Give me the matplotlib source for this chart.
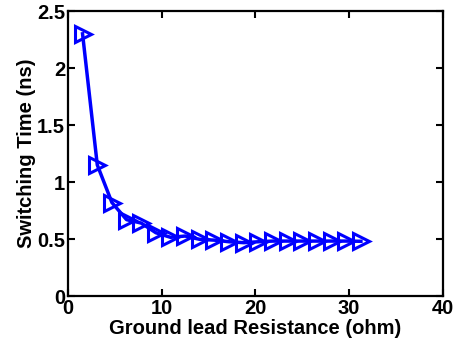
import matplotlib
matplotlib.use("Agg")
import matplotlib.pyplot as plt

# ground lead resistance (ohm) and switching time (ns)
resistance = [1.56, 3.13, 4.69, 6.25, 7.81, 9.38, 10.94, 12.5, 14.06, 15.63,
              17.19, 18.75, 20.31, 21.88, 23.44, 25.0, 26.56, 28.13, 29.69, 31.25]
switching_time = [2.30, 1.15, 0.82, 0.67, 0.64, 0.555, 0.515, 0.526, 0.497, 0.49,
                  0.476, 0.468, 0.476, 0.482, 0.482, 0.482, 0.482, 0.482, 0.482, 0.48]
x_ticks = [0, 10, 20, 30, 40]
y_ticks = [0, 0.5, 1, 1.5, 2, 2.5]
y_tick_labels = ["0", "0.5", "1", "1.5", "2", "2.5"]

plt.rcParams["font.family"] = ["Liberation Sans", "DejaVu Sans"]
plt.rcParams["font.weight"] = "bold"

fig = plt.figure(figsize=(4.59, 3.45), dpi=100)
ax = fig.add_axes([0.148, 0.142, 0.817, 0.826])

ax.plot(resistance, switching_time, color="#0000ff", linewidth=2.5,
        marker=">", markersize=11, markerfacecolor="none",
        markeredgecolor="#0000ff", markeredgewidth=2.2)

ax.set_xlim(0, 40)
ax.set_ylim(0, 2.5)
ax.set_xticks(x_ticks)
ax.set_yticks(y_ticks)
ax.set_yticklabels(y_tick_labels)
ax.tick_params(direction="in", top=True, right=True, length=5, width=1.5,
               labelsize=14.5, pad=2)
for label in ax.get_xticklabels() + ax.get_yticklabels():
    label.set_fontweight("bold")
for spine in ax.spines.values():
    spine.set_linewidth(1.6)

ax.set_xlabel("Ground lead Resistance (ohm)", fontsize=14.5, fontweight="bold", labelpad=1)
ax.set_ylabel("Switching Time (ns)", fontsize=14.5, fontweight="bold", labelpad=1)

fig.savefig("out.png", dpi=100)
